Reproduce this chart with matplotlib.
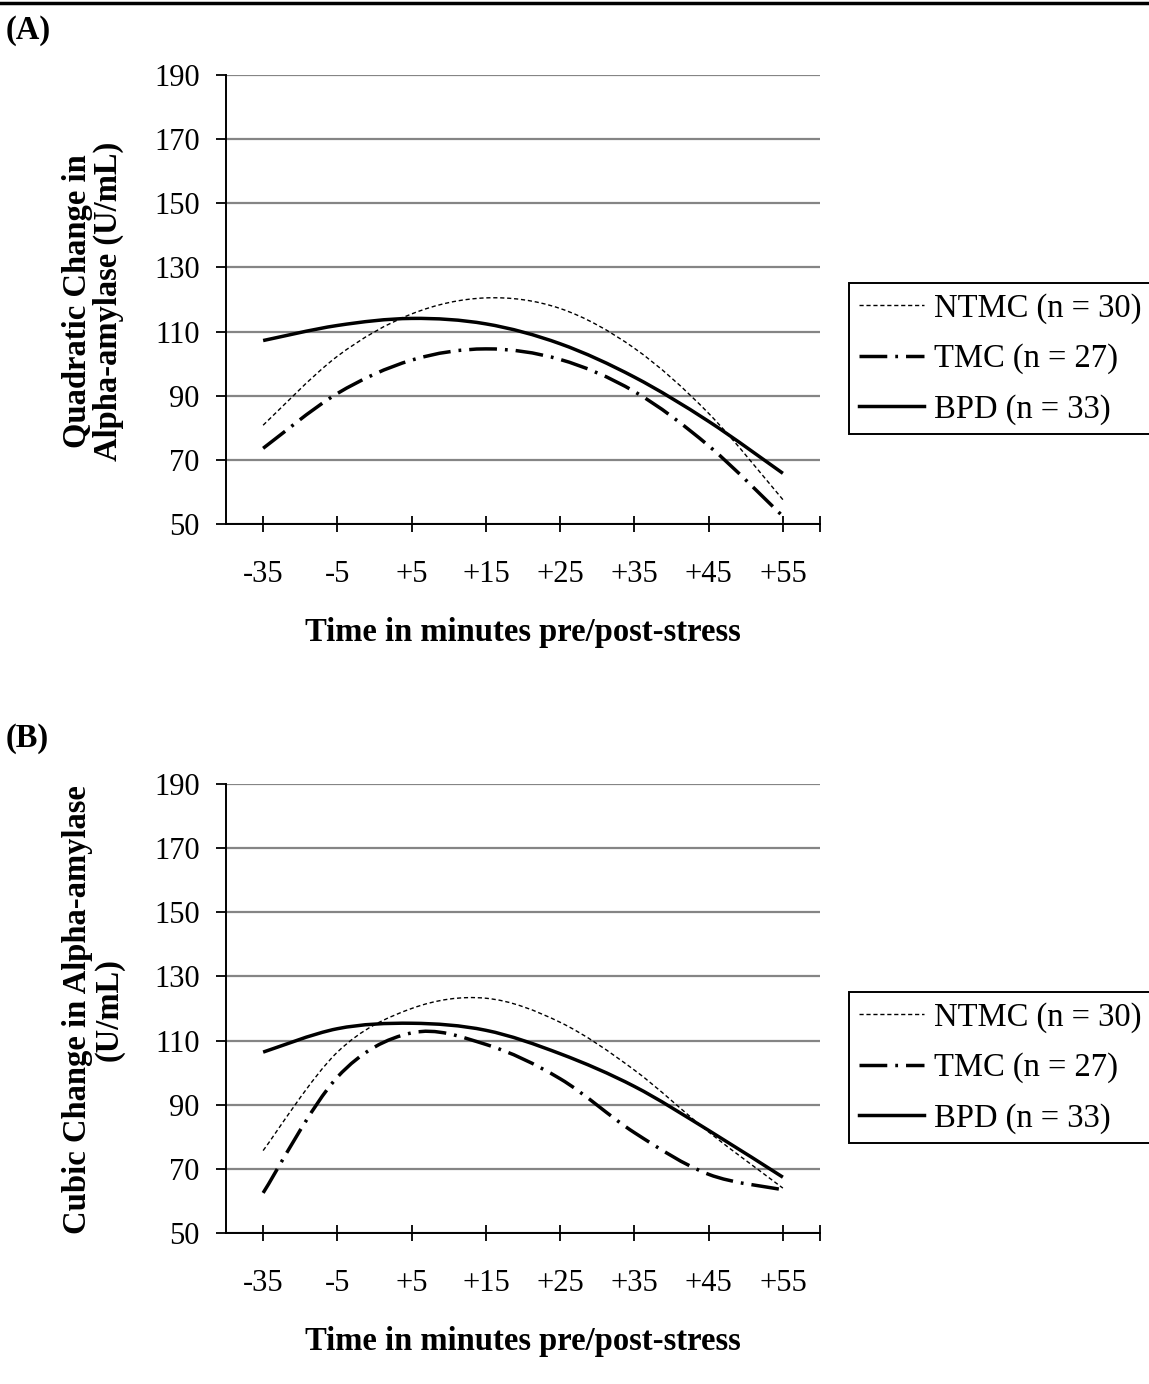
import matplotlib
matplotlib.use("Agg")
import matplotlib.pyplot as plt
from matplotlib.path import Path
from matplotlib.patches import PathPatch
from matplotlib.lines import Line2D

# Daten
categories = ["-35", "-5", "+5", "+15", "+25", "+35", "+45", "+55"]
series_names = ["NTMC (n = 30)", "TMC (n = 27)", "BPD (n = 33)"]

quad_ntmc = [80.8, 102.3, 115.5, 120.5, 117.2, 104.8, 84.5, 57.6]
quad_tmc = [73.6, 90.7, 101.1, 104.6, 101.3, 91.3, 74.4, 52.4]
quad_bpd = [107.2, 111.9, 114.1, 112.4, 106.2, 95.8, 82.0, 65.8]

cubic_ntmc = [75.7, 106.4, 120.0, 123.2, 115.7, 100.8, 81.5, 64.0]
cubic_tmc = [62.5, 98.6, 112.4, 108.8, 98.1, 81.3, 68.3, 63.5]
cubic_bpd = [106.4, 113.7, 115.4, 113.2, 105.9, 95.7, 82.0, 67.4]

yticks = [50, 70, 90, 110, 130, 150, 170, 190]

plt.rcParams['font.family'] = ['Liberation Serif', 'DejaVu Serif']
FS_TICK = 22
FS = 23.5

styles = [
    dict(lw=1.0, ls=(0, (3, 2))),
    dict(lw=2.5, ls=(0, (8, 2.3, 0.8, 2.3))),
    dict(lw=2.5, ls='-'),
]


def smooth_path(xs, ys):
    # Bezier-Glättung wie bei Excel (Catmull-Rom)
    pts = list(zip(xs, ys))
    n = len(pts)
    verts = [pts[0]]
    codes = [Path.MOVETO]
    for i in range(n - 1):
        p0 = pts[max(i - 1, 0)]
        p1 = pts[i]
        p2 = pts[i + 1]
        p3 = pts[min(i + 2, n - 1)]
        c1 = (p1[0] + (p2[0] - p0[0]) / 6, p1[1] + (p2[1] - p0[1]) / 6)
        c2 = (p2[0] - (p3[0] - p1[0]) / 6, p2[1] - (p3[1] - p1[1]) / 6)
        verts += [c1, c2, p2]
        codes += [Path.CURVE4] * 3
    return Path(verts, codes)


def draw_panel(ax, data, ylabel, ylabel_y):
    xs = list(range(len(categories)))
    for vals, st in zip(data, styles):
        patch = PathPatch(smooth_path(xs, vals), fill=False, edgecolor='black',
                          lw=st['lw'], linestyle=st['ls'], capstyle='butt',
                          joinstyle='round', zorder=3)
        ax.add_patch(patch)

    ax.set_xlim(-0.5, 7.5)
    ax.set_ylim(50, 190)
    ax.set_yticks(yticks)
    ax.set_xticks(xs)
    ax.set_xticklabels(categories)
    ax.set_xticks([7.5], minor=True)
    ax.yaxis.grid(True, color='#858585', lw=1.6)
    ax.set_axisbelow(True)
    for s in ['top', 'right']:
        ax.spines[s].set_visible(False)
    for s in ['left', 'bottom']:
        ax.spines[s].set_linewidth(1.4)
    ax.tick_params(axis='x', which='both', direction='inout', length=12,
                   width=1.3, pad=20, labelsize=FS_TICK)
    ax.tick_params(axis='y', direction='out', length=7, width=1.3, pad=12,
                   labelsize=FS_TICK)
    ax.set_xlabel('Time in minutes pre/post-stress', fontsize=FS,
                  fontweight='bold', labelpad=20)
    ax.figure.text(93 / 1149, ylabel_y, ylabel, rotation=90, ha='center',
                   va='center', multialignment='center', fontsize=FS,
                   fontweight='bold', linespacing=1.02)

    handles = [Line2D([], [], color='black', lw=st['lw'], linestyle=st['ls'],
                      dash_capstyle='butt') for st in styles]
    leg = ax.legend(handles, series_names, loc='upper left',
                    bbox_to_anchor=(1.049, 0.536, 0.6, 0), mode='expand',
                    borderaxespad=0, fontsize=FS, frameon=True, fancybox=False,
                    framealpha=1, edgecolor='black', borderpad=0.3,
                    labelspacing=0.6, handlelength=2.0, handletextpad=0.3)
    leg.get_frame().set_linewidth(1.4)


fig = plt.figure(figsize=(11.49, 13.84), dpi=100)
axA = fig.add_axes([226 / 1149, 1 - 524 / 1384, 594 / 1149, 449 / 1384])
axB = fig.add_axes([226 / 1149, 1 - 1233 / 1384, 594 / 1149, 449 / 1384])

draw_panel(axA, [quad_ntmc, quad_tmc, quad_bpd],
           'Quadratic Change in\nAlpha-amylase (U/mL)', 1 - 301 / 1384)
draw_panel(axB, [cubic_ntmc, cubic_tmc, cubic_bpd],
           'Cubic Change in Alpha-amylase\n(U/mL)', 1 - 1010 / 1384)

fig.add_artist(Line2D([0, 1], [1 - 3 / 1384, 1 - 3 / 1384], color='black',
                      lw=2.5, transform=fig.transFigure))
fig.text(6 / 1149, 1 - 30 / 1384, '(A)', fontsize=FS, fontweight='bold',
         va='center', ha='left')
fig.text(6 / 1149, 1 - 739 / 1384, '(B)', fontsize=FS, fontweight='bold',
         va='center', ha='left')

fig.savefig('out.png', dpi=100)
